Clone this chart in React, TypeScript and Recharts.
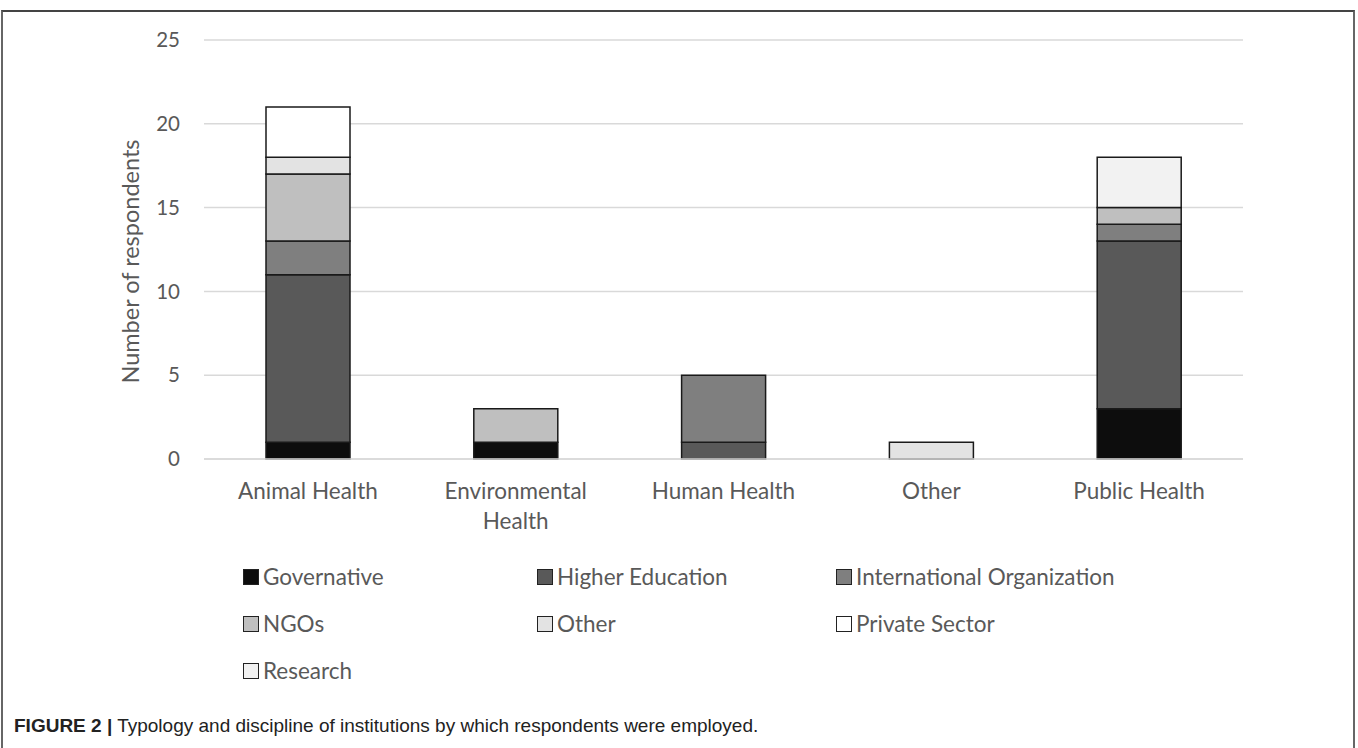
import { BarChart, Bar, XAxis, YAxis, CartesianGrid, Legend, Label } from 'recharts';

const categories = ['Animal Health', 'Environmental Health', 'Human Health', 'Other', 'Public Health'];
const governative = [1, 1, 0, 0, 3];
const higherEducation = [10, 0, 1, 0, 10];
const internationalOrg = [2, 0, 4, 0, 1];
const ngos = [4, 2, 0, 0, 1];
const other = [1, 0, 0, 1, 0];
const privateSector = [3, 0, 0, 0, 0];
const research = [0, 0, 0, 0, 3];
const yTicks = [0, 5, 10, 15, 20, 25];

const series = [
  { key: 'Governative', values: governative, color: '#0d0d0d' },
  { key: 'Higher Education', values: higherEducation, color: '#595959' },
  { key: 'International Organization', values: internationalOrg, color: '#7f7f7f' },
  { key: 'NGOs', values: ngos, color: '#bfbfbf' },
  { key: 'Other', values: other, color: '#e3e3e3' },
  { key: 'Private Sector', values: privateSector, color: '#ffffff' },
  { key: 'Research', values: research, color: '#f2f2f2' },
];

const data = categories.map((name, i) => {
  const row: Record<string, string | number> = { name };
  series.forEach((s) => (row[s.key] = s.values[i]));
  return row;
});

const FONT = 'Lato, "Open Sans", sans-serif';
const TEXT = '#595959';

// wrap long category names the way Excel does (about 14 chars per line)
function wrapLabel(label: string, maxChars = 14) {
  const lines: string[] = [];
  let cur = '';
  label.split(' ').forEach((w) => {
    if (cur && (cur + ' ' + w).length > maxChars) {
      lines.push(cur);
      cur = w;
    } else {
      cur = cur ? cur + ' ' + w : w;
    }
  });
  if (cur) lines.push(cur);
  return lines;
}

function CategoryTick(props: any) {
  const { x, y, payload } = props;
  const lines = wrapLabel(String(payload.value));
  return (
    <text x={x} y={y} textAnchor="middle" fontSize={22.5} fontFamily={FONT} fill={TEXT}>
      {lines.map((ln, i) => (
        <tspan key={i} x={x} dy={i === 0 ? '0.71em' : 30}>
          {ln}
        </tspan>
      ))}
    </text>
  );
}

function LegendBox() {
  return (
    <div
      style={{
        height: 171,
        boxSizing: 'border-box',
        paddingTop: 24,
        paddingLeft: 243,
        display: 'grid',
        gridTemplateColumns: '294px 299px 320px',
        gridAutoRows: '47px',
        fontFamily: FONT,
        fontSize: 22.5,
        color: TEXT,
      }}
    >
      {series.map((s) => (
        <div key={s.key} style={{ display: 'flex', alignItems: 'center' }}>
          <span
            style={{
              width: 14,
              height: 14,
              background: s.color,
              border: '1.5px solid #222',
              marginRight: 4,
              display: 'inline-block',
              flex: 'none',
            }}
          />
          {s.key}
        </div>
      ))}
    </div>
  );
}

export default function App() {
  return (
    <div style={{ position: 'absolute', left: 0, top: 0, width: 1358, height: 748, background: '#fff', overflow: 'hidden' }}>
      <div
        style={{
          position: 'absolute',
          left: 1,
          top: 10,
          width: 1354,
          height: 760,
          borderTop: '2px solid #444',
          borderLeft: '2px solid #666',
          borderRight: '2px solid #666',
          boxSizing: 'border-box',
        }}
      />
      <div style={{ position: 'absolute', left: 0, top: 0 }}>
        <BarChart width={1358} height={700} data={data} margin={{ top: 40, right: 115, left: 0, bottom: 0 }} barSize={84}>
          <CartesianGrid vertical={false} stroke="#d9d9d9" strokeWidth={1.5} />
          <XAxis
            dataKey="name"
            height={70}
            axisLine={{ stroke: '#d9d9d9', strokeWidth: 1.5 }}
            tickLine={false}
            tickMargin={18}
            tick={<CategoryTick />}
            interval={0}
          />
          <YAxis
            width={204}
            domain={[0, 25]}
            ticks={yTicks}
            axisLine={false}
            tickLine={false}
            tickMargin={18}
            tick={{ fontSize: 20.5, fontFamily: FONT, fill: TEXT }}
          >
            <Label
              content={(p: any) => {
                const vb = p.viewBox;
                const cx = 130;
                const cy = vb.y + vb.height / 2 + 12;
                return (
                  <text
                    x={cx}
                    y={cy}
                    transform={`rotate(-90 ${cx} ${cy})`}
                    textAnchor="middle"
                    dominantBaseline="central"
                    fontSize={23.5}
                    fontFamily={FONT}
                    fill={TEXT}
                  >
                    Number of respondents
                  </text>
                );
              }}
            />
          </YAxis>
          <Legend verticalAlign="bottom" content={<LegendBox />} wrapperStyle={{ padding: 0, margin: 0 }} />
          {series.map((s) => (
            <Bar
              key={s.key}
              dataKey={s.key}
              stackId="a"
              fill={s.color}
              stroke="#1a1a1a"
              strokeWidth={1.5}
              isAnimationActive={false}
            />
          ))}
        </BarChart>
      </div>
      <div
        style={{
          position: 'absolute',
          left: 14,
          top: 715,
          fontFamily: '"Liberation Sans", Arial, sans-serif',
          fontSize: 19,
          color: '#222',
          whiteSpace: 'nowrap',
        }}
      >
        <b>FIGURE 2 |</b> Typology and discipline of institutions by which respondents were employed.
      </div>
    </div>
  );
}
